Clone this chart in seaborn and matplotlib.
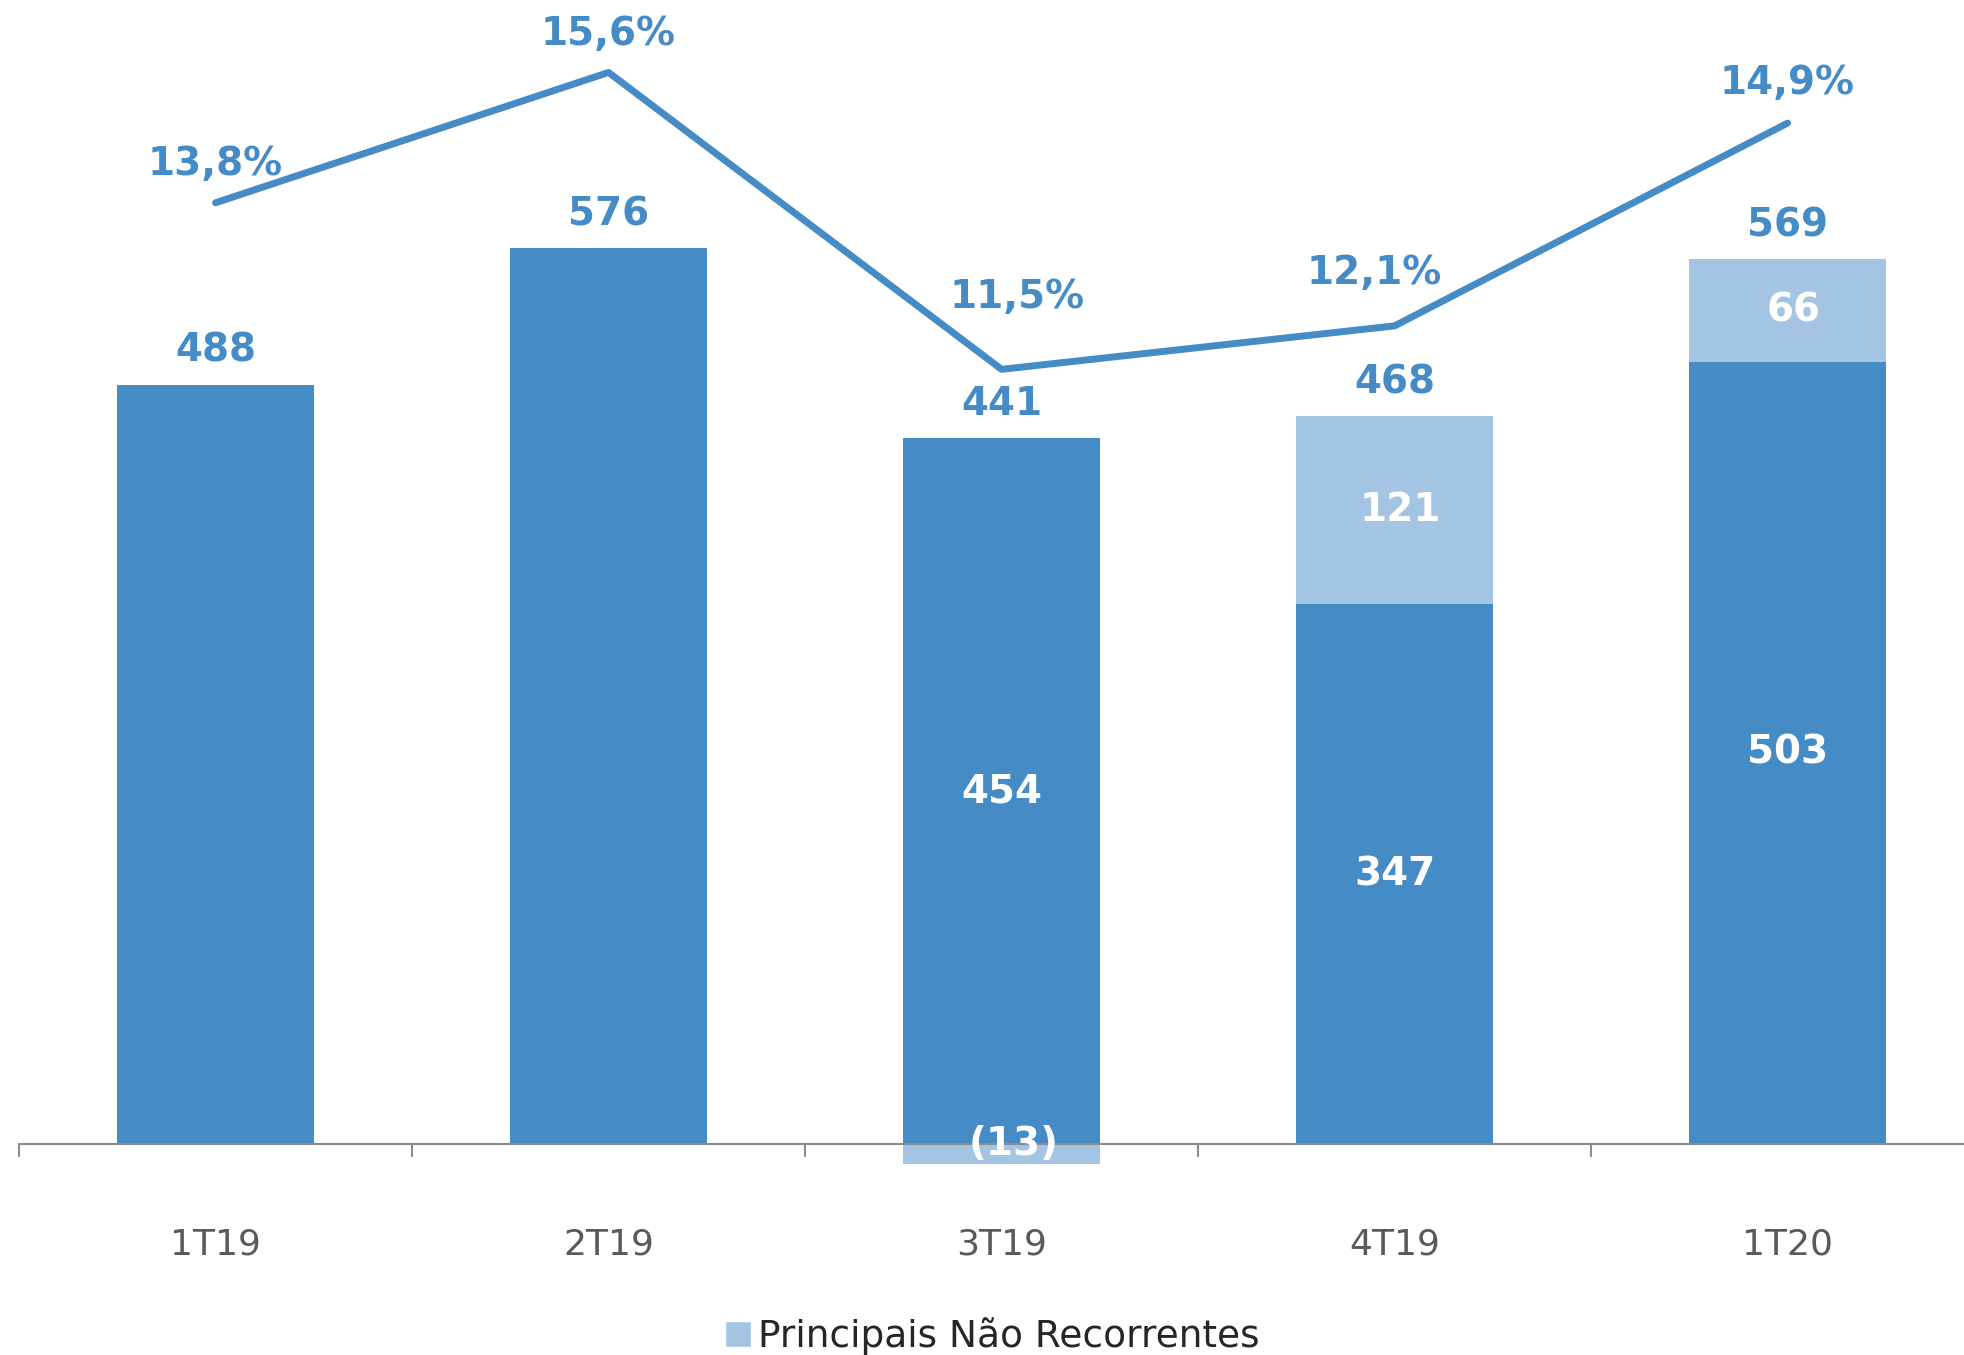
import matplotlib
matplotlib.use('Agg')
import matplotlib.pyplot as plt
from matplotlib.patches import Patch
import seaborn as sns
import pandas as pd
import numpy as np

# dados do gráfico
trimestres = ['1T19', '2T19', '3T19', '4T19', '1T20']
recorrente = [488, 576, 454, 347, 503]
nao_recorrentes = [0, 0, -13, 121, 66]
total = [488, 576, 441, 468, 569]
margem = [13.8, 15.6, 11.5, 12.1, 14.9]

AZUL = '#458BC6'
AZUL_CLARO = '#A3C5E3'
CINZA = '#8C8C8C'

sns.set_theme(style='white')
plt.rcParams['font.family'] = ['DejaVu Sans']

df = pd.DataFrame({'trimestre': trimestres, 'recorrente': recorrente,
                   'nao_rec': nao_recorrentes, 'total': total, 'margem': margem})
# light bar sits on top of the recurring part when positive, below zero when negative
df['claro'] = np.where(df['nao_rec'] > 0, df['recorrente'] + df['nao_rec'], df['nao_rec'])

fig = plt.figure(figsize=(19.65, 13.55), dpi=100)
# axes runs a little past the right edge of the figure (last category is cut)
ax = fig.add_axes([0.0097, 0.1144, 1.0, 0.8856])

sns.barplot(data=df, x='trimestre', y='claro', color=AZUL_CLARO, saturation=1,
            width=0.5, linewidth=0, ax=ax)
sns.barplot(data=df, x='trimestre', y='recorrente', color=AZUL, saturation=1,
            width=0.5, linewidth=0, ax=ax)

# labels
for i, row in df.iterrows():
    topo = max(row['recorrente'], row['total'])
    ax.text(i, topo + 22, f"{row['total']}", ha='center', va='center',
            color=AZUL, fontsize=28, fontweight='bold')
    if row['nao_rec'] != 0:
        ax.text(i, row['recorrente'] / 2, f"{row['recorrente']}", ha='center', va='center',
                color='white', fontsize=28, fontweight='bold')
        if row['nao_rec'] > 0:
            ax.text(i + 0.015, row['recorrente'] + row['nao_rec'] / 2, f"{row['nao_rec']}",
                    ha='center', va='center', color='white', fontsize=28, fontweight='bold')
        else:
            ax.text(i + 0.03, 0, f"({abs(row['nao_rec'])})", ha='center', va='center',
                    color='white', fontsize=28, fontweight='bold', zorder=5)

# margin line
ax2 = ax.twinx()
sns.lineplot(x=trimestres, y=margem, color=AZUL, linewidth=5, sort=False,
             solid_capstyle='round', ax=ax2)
ax2.set_ylim(0.03, 16.6)
ax2.set_yticks([])
ax2.set_ylabel('')
for s in ax2.spines.values():
    s.set_visible(False)

offsets = [(0, 28), (0, 28), (11, 52), (-15, 38), (0, 29)]
for i, (v, off) in enumerate(zip(margem, offsets)):
    ax2.annotate(f"{v:.1f}".replace('.', ',') + '%', xy=(i, v), xytext=off,
                 textcoords='offset points', ha='center', va='center',
                 color=AZUL, fontsize=28, fontweight='bold')

ax.set_xlim(-0.5, 4.5)
ax.set_ylim(-36, 735.7)
ax.set_xlabel('')
ax.set_ylabel('')
ax.set_yticks([])
for s in ['top', 'right', 'left']:
    ax.spines[s].set_visible(False)
ax.spines['bottom'].set_position(('data', 0))
ax.spines['bottom'].set_color(CINZA)
ax.spines['bottom'].set_linewidth(1.5)
ax.set_xticks(np.arange(-0.5, 5, 1), minor=True)
ax.tick_params(axis='x', which='major', bottom=True, length=0, pad=60,
               labelsize=26, labelcolor='#595959')
ax.tick_params(axis='x', which='minor', bottom=True, length=9, width=1.5,
               color=CINZA, direction='out')

fig.legend(handles=[Patch(facecolor=AZUL_CLARO, label='Principais Não Recorrentes')],
           loc='center', bbox_to_anchor=(0.505, 0.014), frameon=False, fontsize=27,
           handlelength=0.7, handleheight=0.7, handletextpad=0.2, borderpad=0)

fig.savefig('out.png', dpi=100)
